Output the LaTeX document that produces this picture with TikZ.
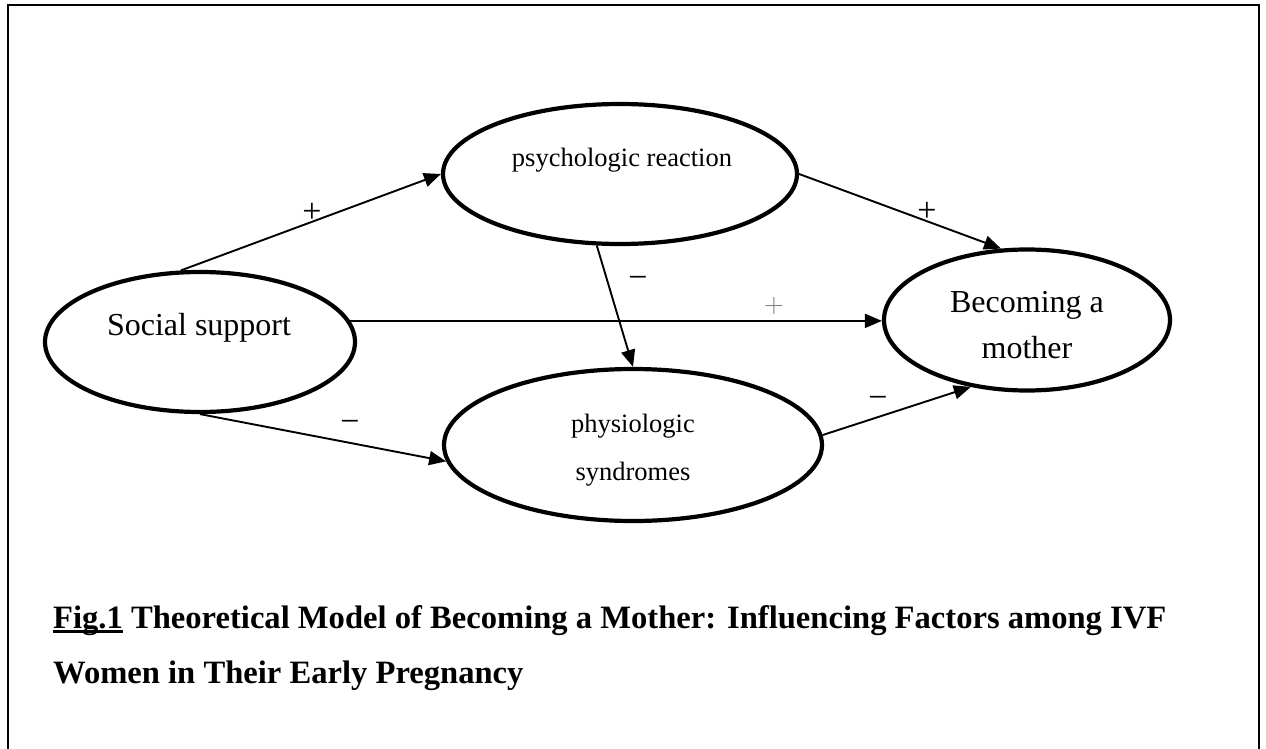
\documentclass[tikz,border=0pt]{standalone}
\usepackage{fontspec}
\setmainfont{Liberation Serif}
\usetikzlibrary{shapes.geometric,arrows.meta}
\newcommand\figul[1]{\setbox0\hbox{#1}\rlap{\rule[-4.5pt]{\wd0}{3pt}}\box0\relax}
\begin{document}
\begin{tikzpicture}[x=1pt,y=-1pt,
  oval/.style={draw,ellipse,line width=4.2pt,inner sep=0pt},
  link/.style={line width=1.9pt,-{Triangle[length=17pt,width=14pt]}},
  big/.style={inner sep=0pt,anchor=base,font=\fontsize{32}{32}\selectfont},
  mid/.style={inner sep=0pt,anchor=base,font=\fontsize{26.5}{26.5}\selectfont},
  sign/.style={inner sep=0pt,font=\fontsize{34}{34}\selectfont},
  captxt/.style={inner sep=0pt,anchor=base west,font=\fontsize{32.6}{32.6}\selectfont\bfseries}]
\useasboundingbox (0,0) rectangle (1266,749);
% frame
\draw[line width=2pt] (8,749) -- (8,5) -- (1259,5) -- (1259,749);
% ellipses
\node[oval,minimum width=310pt,minimum height=140pt] (ss) at (200,342) {};
\node[oval,minimum width=354pt,minimum height=140pt] (ps) at (620,174) {};
\node[oval,minimum width=378pt,minimum height=152pt] (ph) at (633,445) {};
\node[oval,minimum width=286pt,minimum height=141pt] (bm) at (1027,320) {};
% texts
\node[big] (sst) at (199,335) {Social support};
\node[mid] (pst) at (622,167) {psychologic reaction};
\node[mid] (pht1) at (633,432) {physiologic};
\node[mid] (pht2) at (633,480) {syndromes};
\node[big] (bmt1) at (1027,312) {Becoming a};
\node[big] (bmt2) at (1027,358) {mother};
% connectors
\draw[link] (ss.105) -- (ps.west);
\draw[link] (ps.east) -- (bm.110);
\draw[link] (ss.8) -- (ss.8 -| bm.west);
\draw[link] (ps.252) -- (ph.north);
\draw[link] (ss.south) -- (ph.185);
\draw[link] (ph.3) -- (bm.230);
% signs
\node[sign] (s1) at (312,213) {+};
\node[sign] (s2) at (927,212) {+};
\node[inner sep=0pt] (s3) at (774,306) {\color{gray}\scalebox{2.6}{$+$}};
\node[sign] (s4) at (638,282) {−};
\node[sign] (s5) at (350,426) {−};
\node[sign] (s6) at (878,402) {−};
% caption
\node[captxt] (cap1) at (53,628) {\figul{Fig.1} Theoretical Model of Becoming a Mother: Influencing Factors among IVF};
\node[captxt] (cap2) at (53,683) {Women in Their Early Pregnancy};
\end{tikzpicture}
\end{document}
